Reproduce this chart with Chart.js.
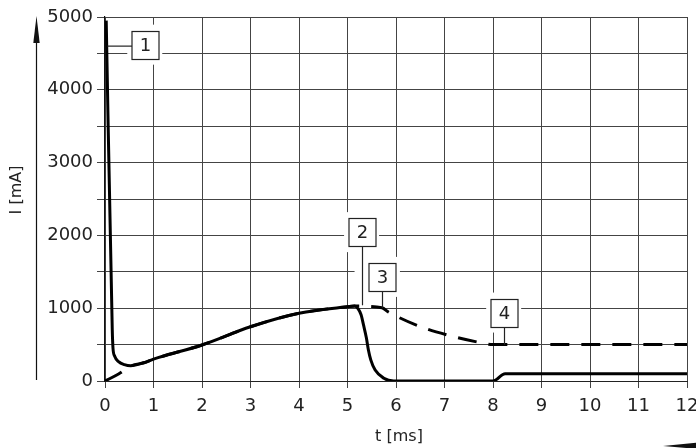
<!DOCTYPE html>
<html>
<head>
<meta charset="utf-8">
<script src="https://cdn.jsdelivr.net/npm/chart.js@4.4.0/dist/chart.umd.min.js"></script>
<style>
  html, body { margin: 0; padding: 0; background: #fff; }
  #wrap { width: 696px; height: 448px; }
</style>
</head>
<body>
<div id="wrap"><canvas id="chart" width="696" height="448"></canvas></div>
<script>
// Curve 1 (solid): t [ms] / I [mA]
const solidTime    = [0.025, 0.15, 0.165, 0.2, 0.28, 0.4, 0.53, 0.8, 1,   2,   3,   4,   5,    5.15, 5.22, 5.28, 5.33, 5.39, 5.43, 5.48, 5.57, 5.75, 5.95, 8.0, 8.25, 12];
const solidCurrent = [4950,  700,  450,   340, 265,  225, 210,  250, 300, 495, 745, 930, 1020, 1030, 990,  910,  770,  590,  430,  290,  150,  37,   0,    0,   100,  100];

// Curves 2-4 (dashed)
const dashedTime    = [0, 0.28, 0.55, 0.8, 1,   2,   3,   4,   5,    5.15, 5.71, 5.85, 6.5, 7.05, 7.74, 8.0, 8.25, 12];
const dashedCurrent = [0, 96,   210,  250, 300, 495, 745, 930, 1020, 1030, 1005, 945,  747, 633,  527,  500, 500,  500];

// axes
const timeMin = 0, timeMax = 12, timeStep = 1;
const currentMin = 0, currentMax = 5000, currentStep = 500;
const currentLabelStep = 1000;

// numbered callouts (box centre and leader end, in data units)
const calloutText = ['1', '2', '3', '4'];
const callouts = [
  { t: 0.82, i: 4620, leader: 'left', endT: 0.05, endI: 4600 },
  { t: 5.29, i: 2045, leader: 'down', endT: 5.29, endI: 1040 },
  { t: 5.72, i: 1430, leader: 'down', endT: 5.72, endI: 1005 },
  { t: 8.22, i: 940,  leader: 'down', endT: 8.22, endI: 500 }
];

const FONT = 'DejaVu Sans';
const BOX_W = 27, BOX_H = 28;

const toPoints = (xs, ys) => xs.map((x, k) => ({ x, y: ys[k] }));

const calloutPlugin = {
  id: 'callouts',
  beforeDatasetsDraw(chart) {
    // white out the grid behind the boxes and vertical leaders
    const { ctx, scales: { x, y } } = chart;
    ctx.save();
    ctx.fillStyle = '#fff';
    callouts.forEach(c => {
      const cx = x.getPixelForValue(c.t);
      const cy = y.getPixelForValue(c.i);
      ctx.fillRect(cx - BOX_W / 2 - 4, cy - BOX_H / 2 - 6, BOX_W + 8, BOX_H + 12);
      if (c.leader === 'down') {
        const ey = y.getPixelForValue(c.endI);
        ctx.fillRect(cx - 7, cy + BOX_H / 2, 14, ey - 7 - (cy + BOX_H / 2));
      }
    });
    ctx.restore();
  },
  afterDatasetsDraw(chart) {
    const { ctx, scales: { x, y } } = chart;
    ctx.save();
    ctx.strokeStyle = '#222';
    ctx.lineWidth = 1.2;
    callouts.forEach((c, k) => {
      const cx = Math.round(x.getPixelForValue(c.t)) + 0.5;
      const cy = Math.round(y.getPixelForValue(c.i)) + 0.5;
      const ex = x.getPixelForValue(c.endT);
      const ey = y.getPixelForValue(c.endI);
      ctx.beginPath();
      if (c.leader === 'left') {
        ctx.moveTo(cx - BOX_W / 2, ey);
        ctx.lineTo(ex, ey);
      } else {
        ctx.moveTo(cx, cy + BOX_H / 2);
        ctx.lineTo(cx, ey);
      }
      ctx.stroke();
      ctx.fillStyle = '#fff';
      ctx.fillRect(cx - BOX_W / 2, cy - BOX_H / 2, BOX_W, BOX_H);
      ctx.strokeRect(cx - BOX_W / 2, cy - BOX_H / 2, BOX_W, BOX_H);
      ctx.fillStyle = '#222';
      ctx.font = '18px "' + FONT + '"';
      ctx.textAlign = 'center';
      ctx.textBaseline = 'middle';
      ctx.fillText(calloutText[k], cx, cy + 1);
    });
    ctx.restore();
  },
  afterDraw(chart) {
    const { ctx, chartArea } = chart;
    ctx.save();
    ctx.fillStyle = '#111';
    ctx.strokeStyle = '#111';
    // vertical arrow
    ctx.lineWidth = 1.2;
    ctx.beginPath();
    ctx.moveTo(36.5, chartArea.bottom - 1);
    ctx.lineTo(36.5, 38);
    ctx.stroke();
    ctx.beginPath();
    ctx.moveTo(36.5, 16);
    ctx.lineTo(33.3, 43);
    ctx.lineTo(39.7, 43);
    ctx.closePath();
    ctx.fill();
    // horizontal arrow (bottom right, mostly off canvas)
    ctx.beginPath();
    ctx.moveTo(663, 446);
    ctx.lineTo(698, 442.5);
    ctx.lineTo(698, 449);
    ctx.closePath();
    ctx.fill();
    // axis titles
    ctx.fillStyle = '#222';
    ctx.font = '16px "' + FONT + '"';
    ctx.textAlign = 'center';
    ctx.textBaseline = 'middle';
    ctx.fillText('t [ms]', 399, 437);
    ctx.translate(17, 190);
    ctx.rotate(-Math.PI / 2);
    ctx.fillText('I [mA]', 0, 0);
    ctx.restore();
  }
};

new Chart(document.getElementById('chart'), {
  type: 'line',
  data: {
    datasets: [
      {
        data: toPoints(solidTime, solidCurrent),
        borderColor: '#000',
        borderWidth: 3,
        pointRadius: 0,
        cubicInterpolationMode: 'monotone',
        fill: false
      },
      {
        data: toPoints(dashedTime, dashedCurrent),
        borderColor: '#000',
        borderWidth: 3,
        borderDash: [19, 12],
        pointRadius: 0,
        cubicInterpolationMode: 'monotone',
        fill: false
      }
    ]
  },
  options: {
    responsive: false,
    animation: false,
    devicePixelRatio: 1,
    layout: { padding: { top: 17, right: 9, left: 0, bottom: 0 } },
    plugins: { legend: { display: false }, tooltip: { enabled: false } },
    scales: {
      x: {
        type: 'linear',
        min: timeMin,
        max: timeMax,
        afterFit: s => { s.height = 67; s.paddingRight = 0; s.paddingLeft = 0; },
        ticks: {
          stepSize: timeStep,
          color: '#222',
          font: { family: FONT, size: 18 },
          padding: 8,
          maxRotation: 0
        },
        grid: { color: '#444', lineWidth: 1, tickLength: 7 },
        border: { color: '#222', width: 1 }
      },
      y: {
        min: currentMin,
        max: currentMax,
        afterFit: s => { s.width = 105; },
        ticks: {
          stepSize: currentStep,
          color: '#222',
          font: { family: FONT, size: 18 },
          padding: 4,
          callback: v => (v % currentLabelStep === 0 ? v : '')
        },
        grid: { color: '#444', lineWidth: 1, tickLength: 8 },
        border: { color: '#111', width: 1.2 }
      }
    }
  },
  plugins: [calloutPlugin]
});
</script>
</body>
</html>
